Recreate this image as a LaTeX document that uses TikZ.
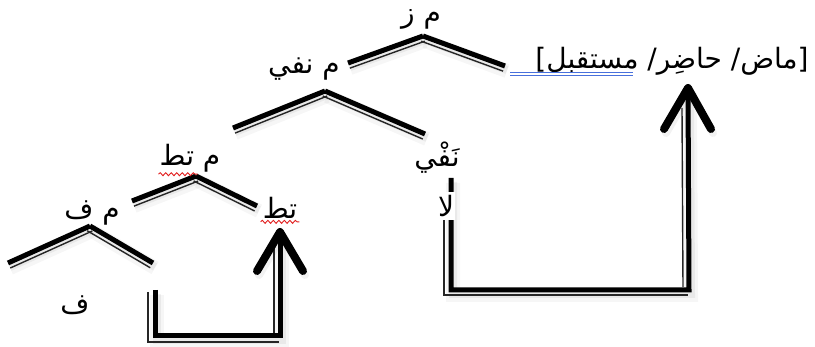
\documentclass[tikz,border=0pt]{standalone}
\usepackage{fontspec}
\TeXXeTstate=1
\newfontfamily\arabicfont[Script=Arabic]{DejaVu Sans}
\usetikzlibrary{calc,decorations.pathmorphing}

\newcommand\artext[1]{{\arabicfont\beginR #1\endR}}
\newcommand\gapw{5.5pt}
% thick stroke with a thin companion stroke on its right-hand side
\newcommand\twin[2]{%
  \draw[shadowA] (#1) -- (#2);
  \draw[shadowB] (#1) -- (#2);
  \draw[thickln] (#1) -- (#2);
  \draw[thinln] ($(#1)!\gapw!-90:(#2)$) -- ($(#2)!\gapw!90:(#1)$);
}

\definecolor{wordblue}{RGB}{72,112,220}
\definecolor{wordred}{RGB}{225,30,30}

\begin{document}
\begin{tikzpicture}[x=1pt,y=-1pt,
  thickln/.style={line width=5pt,black},
  thinln/.style={line width=1.4pt,black!85},
  shadowA/.style={line width=14pt,black,opacity=0.035,transform canvas={shift={(2pt,-5pt)}}},
  shadowB/.style={line width=8pt,black,opacity=0.05,transform canvas={shift={(2pt,-4pt)}}},
  lbl/.style={inner sep=1pt,font=\fontsize{28}{32}\selectfont},
  arrowhd/.style={line width=8pt,black,line cap=round,line join=round},
  wavy/.style={wordred,line width=0.9pt,decorate,decoration={snake,amplitude=1.5pt,segment length=5.5pt}},
  blueln/.style={wordblue,line width=0.9pt}]

\useasboundingbox (0,0) rectangle (815,347);

% ---------- carets ----------
\coordinate (zL) at (348,63);  \coordinate (zA) at (423,36);  \coordinate (zR) at (505,66);
\coordinate (nL) at (233,128); \coordinate (nA) at (325,91);  \coordinate (nR) at (425,134);
\coordinate (tL) at (132,201); \coordinate (tA) at (196,176); \coordinate (tR) at (257,206);
\coordinate (fL) at (8,263);   \coordinate (fA) at (90,226);  \coordinate (fR) at (153,263);

\twin{zL}{zA}\twin{zA}{zR}
\twin{nL}{nA}\twin{nA}{nR}
\twin{tL}{tA}\twin{tA}{tR}
\twin{fL}{fA}\twin{fA}{fR}

% ---------- labels ----------
\node[lbl] (mz)   at (421,19)  {\artext{م ز}};
\node[lbl] (mn)   at (304,69)  {\artext{م نفي}};
\node[lbl] (mt)   at (190,158) {\artext{م تط}};
\node[lbl] (mf)   at (92,213)  {\artext{م ف}};
\node[lbl] (nafy) at (437,158) {\artext{نَفْي}};
\node[lbl] (tat)  at (280,208) {\artext{تط}};
\node[lbl] (fa)   at (75,305)  {\artext{ف}};
\node[lbl] (tense) at (672,61) {\artext{[ماض/ حاضِر/ مستقبل]}};

% red wavy marks under the two tokens
\draw[wavy] ($(mt.south west)+(0,1)$) -- ($(mt.south west)!0.62!(mt.south east)+(0,1)$);
\draw[wavy] ($(tat.south west)+(-1,2)$) -- ($(tat.south east)+(1,2)$);
% blue double underline
\coordinate (u1) at (510,72); \coordinate (u2) at (633,72);
\draw[blueln] (u1) -- (u2);
\draw[blueln] ($(u1)+(0,3)$) -- ($(u2)+(0,3)$);

% ---------- connector from la up to the tense label ----------
\coordinate (bA) at (451,178);
\coordinate (bB) at (451,290);
\coordinate (bC) at (689,290);
\coordinate (bT) at (688,88);
\coordinate (bH1) at (664,129);
\coordinate (bH2) at (711,129);
\draw[shadowA] (bA) -- (bB) -- (bC) -- (bT);
\draw[shadowB] (bA) -- (bB) -- (bC) -- (bT);
\draw[thickln,line join=miter] (bA) -- (bB) -- (bC) -- (bT);
\draw[thinln] ($(bB)+(-7,-72)$) -- ($(bB)+(-7,5)$) -- ($(bC)+(-1,5)$);
\draw[thinln] ($(bC)+(-6,-3)$) -- ($(bT)+(-6,20)$);
\draw[shadowB,line cap=round,line join=round] (bH1) -- (bT) -- (bH2);
\draw[arrowhd] (bH1) -- (bT) -- (bH2);
\node[lbl,fill=white,inner ysep=3pt] (la) at (446,206) {\artext{لا}};

% ---------- connector from under fa up to tat ----------
\coordinate (sA) at (155,290);
\coordinate (sB) at (155,336);
\coordinate (sC) at (280,336);
\coordinate (sT) at (280,232);
\coordinate (sH1) at (257,271);
\coordinate (sH2) at (303,271);
\draw[shadowA] (sA) -- (sB) -- (sC) -- (sT);
\draw[shadowB] (sA) -- (sB) -- (sC) -- (sT);
\draw[thickln,line join=miter] (sA) -- (sB) -- (sC) -- (sT);
\draw[thinln] ($(sA)+(-7,2)$) -- ($(sB)+(-7,6)$) -- ($(sC)+(-1,6)$);
\draw[thinln] ($(sC)+(-6,-3)$) -- ($(sT)+(-6,14)$);
\draw[shadowB,line cap=round,line join=round] (sH1) -- (sT) -- (sH2);
\draw[arrowhd] (sH1) -- (sT) -- (sH2);

\end{tikzpicture}
\end{document}
